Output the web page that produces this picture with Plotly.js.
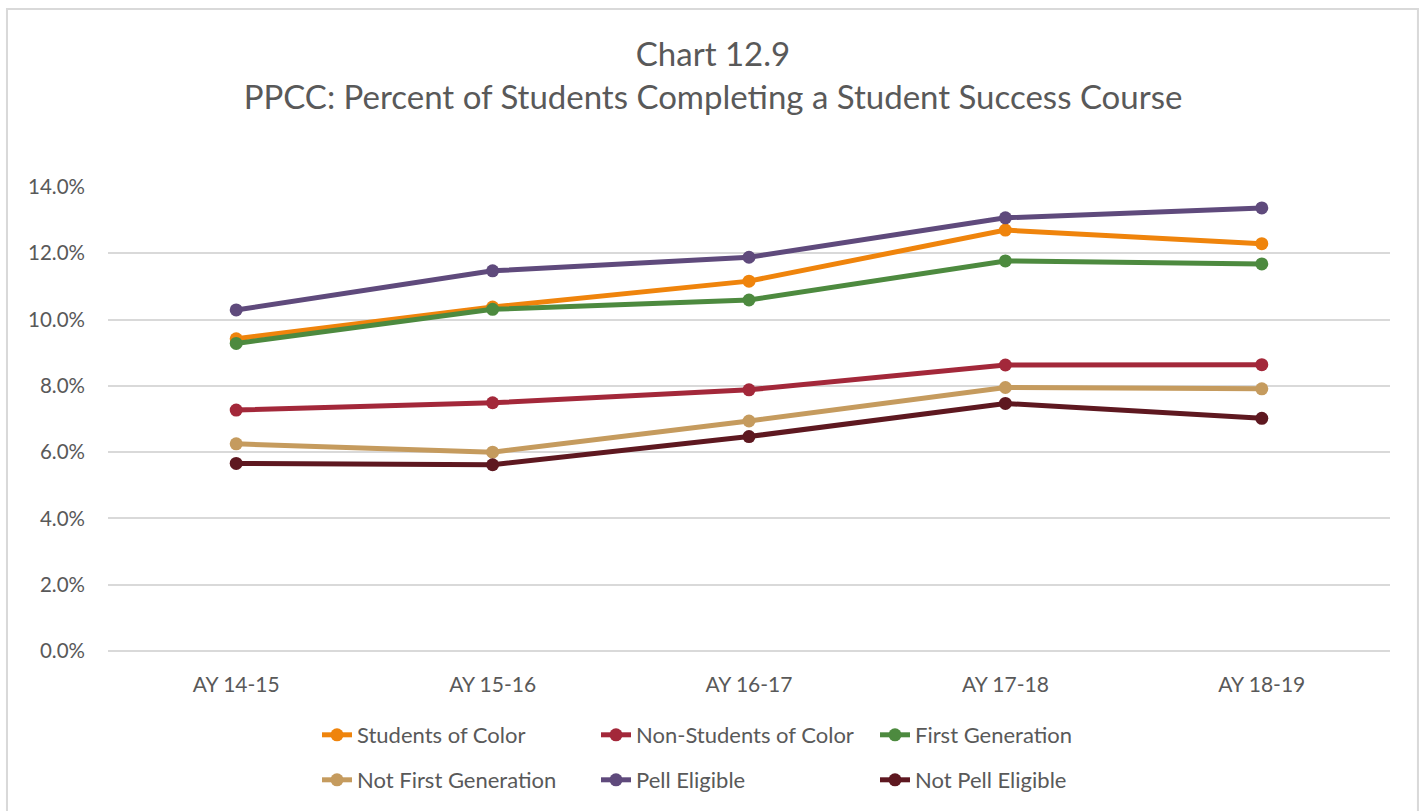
<!DOCTYPE html>
<html>
<head>
<meta charset="utf-8">
<script src="https://cdn.plot.ly/plotly-3.0.1.min.js"></script>
<style>
  html, body { margin: 0; padding: 0; background: #fff; }
  #chart { width: 1426px; height: 811px; }
</style>
</head>
<body>
<div id="chart"></div>
<script>
const categories = ["AY 14-15", "AY 15-16", "AY 16-17", "AY 17-18", "AY 18-19"];
const studentsOfColor     = [0.0942, 0.1038, 0.1116, 0.1270, 0.1229];
const nonStudentsOfColor  = [0.0727, 0.0749, 0.0788, 0.0863, 0.0864];
const firstGeneration     = [0.0928, 0.1031, 0.1059, 0.1177, 0.1168];
const notFirstGeneration  = [0.0625, 0.0600, 0.0694, 0.0795, 0.0791];
const pellEligible        = [0.1029, 0.1147, 0.1188, 0.1307, 0.1337];
const notPellEligible     = [0.0566, 0.0562, 0.0647, 0.0747, 0.0702];

const seriesNames = ["Students of Color", "Non-Students of Color", "First Generation",
                     "Not First Generation", "Pell Eligible", "Not Pell Eligible"];
const seriesValues = [studentsOfColor, nonStudentsOfColor, firstGeneration,
                      notFirstGeneration, pellEligible, notPellEligible];
const seriesColors = ["#EF840C", "#A3283A", "#4D8A3F", "#C59B5E", "#5F4A7C", "#5E1820"];

const FONT = "Lato, 'Liberation Sans', sans-serif";
const TXT = "#595959";

const traces = seriesNames.map((name, i) => ({
  type: "scatter",
  mode: "lines+markers",
  name: name,
  x: categories,
  y: seriesValues[i],
  line: { color: seriesColors[i], width: 5 },
  marker: { color: seriesColors[i], size: 13 },
  legend: i < 3 ? "legend" : "legend2",
  hovertemplate: "%{y:.1%}<extra>" + name + "</extra>"
}));

const legendCommon = {
  orientation: "h",
  xref: "container", yref: "container",
  xanchor: "left", yanchor: "middle",
  font: { family: FONT, size: 22, color: TXT },
  entrywidth: 234,
  itemwidth: 30,
  bgcolor: "rgba(0,0,0,0)",
  traceorder: "normal"
};

const layout = {
  width: 1426, height: 811,
  paper_bgcolor: "#ffffff", plot_bgcolor: "#ffffff",
  margin: { l: 108, r: 36, t: 187, b: 160 },
  font: { family: FONT, color: TXT },
  title: {
    text: "Chart 12.9<br>PPCC: Percent of Students Completing a Student Success Course",
    font: { family: FONT, size: 33, color: TXT },
    x: 0.5, xanchor: "center",
    y: 1 - 66 / 811, yanchor: "top"
  },
  xaxis: {
    type: "category",
    range: [-0.5, 4.5],
    showgrid: false,
    showline: false,
    ticks: "",
    zeroline: false,
    tickfont: { family: FONT, size: 21, color: TXT },
    ticklabelstandoff: 19,
    fixedrange: true
  },
  yaxis: {
    range: [0, 0.14],
    dtick: 0.02,
    tick0: 0,
    tickformat: ".1%",
    showgrid: true,
    gridcolor: "#d9d9d9",
    gridwidth: 1.5,
    zeroline: true,
    zerolinecolor: "#d9d9d9",
    zerolinewidth: 1.5,
    showline: false,
    ticks: "",
    tickfont: { family: FONT, size: 20.5, color: TXT },
    ticklabelstandoff: 22,
    fixedrange: true
  },
  legend: Object.assign({}, legendCommon, { x: 317 / 1426, y: 1 - 735 / 811 }),
  legend2: Object.assign({}, legendCommon, { x: 317 / 1426, y: 1 - 780 / 811 }),
  shapes: [{
    type: "path",
    xref: "paper", yref: "paper",
    path: "M -0.0788,-0.40 L -0.0788,1.3836 L 1.0218,1.3836 L 1.0218,-0.40",
    line: { color: "#d9d9d9", width: 2 }
  }]
};

Plotly.newPlot("chart", traces, layout, { displayModeBar: false, responsive: false });
</script>
</body>
</html>
